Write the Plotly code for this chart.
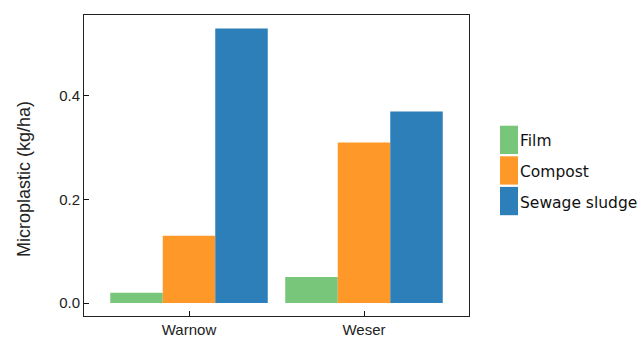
import plotly.graph_objects as go

# Microplastic input per region and source (kg/ha)
regions = ["Warnow", "Weser"]
sources = ["Film", "Compost", "Sewage sludge"]
film = [0.02, 0.05]
compost = [0.13, 0.31]
sewage_sludge = [0.53, 0.37]
colors = ["#78c679", "#fe9929", "#2c7fb8"]

y_ticks = [0.0, 0.2, 0.4]
y_title = "Microplastic (kg/ha)"

W, H = 641, 338
L, R, T, B = 84, 172, 15, 22
pw, ph = W - L - R, H - T - B

fig = go.Figure()
for name, vals, col in zip(sources, [film, compost, sewage_sludge], colors):
    fig.add_trace(go.Bar(x=regions, y=vals, name=name, marker=dict(color=col, line=dict(width=0)),
                         showlegend=False))

def px_x(px):
    return (px - L) / pw

def px_y(py):
    return (H - B - py) / ph

# Legend drawn as tall swatches with labels to the right of the plot
shapes = []
annotations = []
sw_top = 125.7
sw_h = 28.3
sw_step = 30.6
for i, (name, col) in enumerate(zip(sources, colors)):
    y0 = sw_top + i * sw_step
    y1 = y0 + sw_h
    shapes.append(dict(type="rect", xref="paper", yref="paper",
                       x0=px_x(500), x1=px_x(518), y0=px_y(y1), y1=px_y(y0),
                       fillcolor=col, line=dict(width=0), layer="above"))
    annotations.append(dict(xref="paper", yref="paper", x=px_x(518), y=px_y((y0 + y1) / 2 + 1.5),
                            text=name, showarrow=False, xanchor="left", yanchor="middle",
                            font=dict(family="DejaVu Sans, Verdana", size=15.5, color="#111")))

# Vertical axis title, placed slightly below the plot's midline
annotations.append(dict(xref="paper", yref="paper", x=px_x(24), y=px_y(179), text=y_title,
                        textangle=-90, showarrow=False, xanchor="center", yanchor="middle",
                        font=dict(family="Liberation Sans, Arial", size=18, color="#222")))

axis_common = dict(showline=True, mirror=True, linecolor="#222", linewidth=1, automargin=False,
                   ticks="inside", ticklen=5, tickcolor="#111", showgrid=False, zeroline=False,
                   tickfont=dict(family="Liberation Sans, Arial", size=15, color="#222"))

fig.update_layout(
    width=W, height=H,
    margin=dict(l=L, r=R, t=T, b=B),
    paper_bgcolor="white", plot_bgcolor="white",
    barmode="group", bargap=0.1, bargroupgap=0,
    xaxis=dict(range=[-0.6, 1.6], **axis_common),
    yaxis=dict(range=[-0.0251, 0.5563], tickvals=y_ticks, tickformat=".1f", **axis_common),
    shapes=shapes,
    annotations=annotations,
)

fig.write_html("out.html")
